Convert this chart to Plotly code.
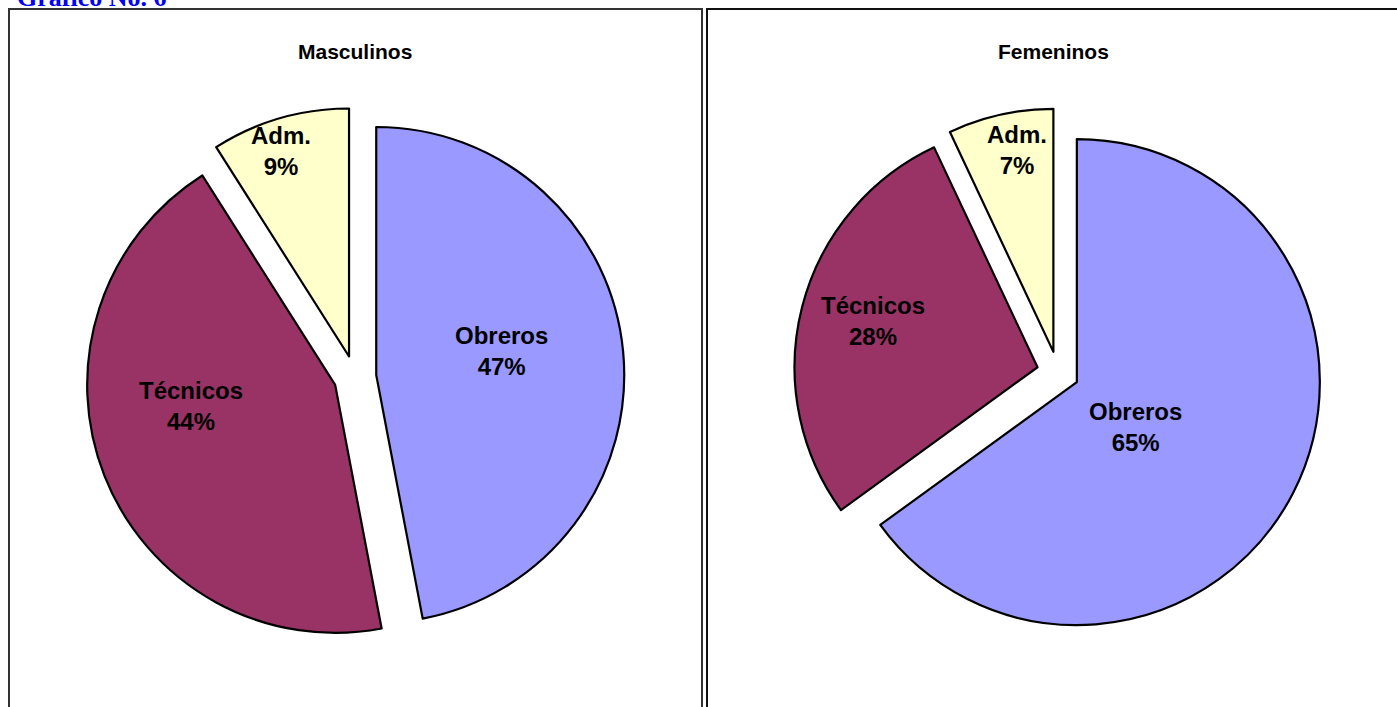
import math
import plotly.graph_objects as go

W, H = 1397, 707

categories = ["Obreros", "Técnicos", "Adm."]
masculinos = [47, 44, 9]
femeninos = [65, 28, 7]
colors = ["#9999FF", "#993366", "#FFFFCC"]

# label placement: radial fraction of radius and angular tweak (deg) per slice
m_label_frac = [0.60, 0.67, 0.96]
m_label_dang = [-4.6, 11.6, -1.9]
f_label_frac = [0.39, 0.79, 0.93]
f_label_dang = [8.3, 1.2, 2.2]

FONT = "Arial, Liberation Sans, sans-serif"


def px_dom(cx, cy, half):
    return dict(x=[(cx - half) / W, (cx + half) / W],
                y=[1 - (cy + half) / H, 1 - (cy - half) / H])


def make_pie(vals, cx, cy, r, pull):
    half = r * (1 + pull)
    return go.Pie(
        labels=categories, values=vals, sort=False, direction="clockwise",
        rotation=0, pull=[pull] * len(vals),
        marker=dict(colors=colors, line=dict(color="black", width=2.2)),
        textinfo="none",
        hoverinfo="label+percent", showlegend=False,
        domain=px_dom(cx, cy, half),
    )


def label_annots(vals, cx, cy, r, fracs, dangs):
    total = sum(vals)
    out = []
    start = 0.0
    for lab, v, fr, da in zip(categories, vals, fracs, dangs):
        ang = math.radians((start + v / total * 180.0) + da)
        start += v / total * 360.0
        x = cx + fr * r * math.sin(ang)
        y = cy - fr * r * math.cos(ang)
        pct = round(v / total * 100)
        out.append(dict(
            text=f"<b>{lab}</b><br><b>{pct}%</b>", x=x / W, y=1 - y / H,
            xref="paper", yref="paper", showarrow=False,
            xanchor="center", yanchor="middle",
            font=dict(family=FONT, size=24, color="black")))
    return out


M_C, M_R, M_P = (355, 377), 248, 0.086
F_C, F_R, F_P = (1058, 372.5), 243, 0.087

fig = go.Figure()
fig.add_trace(make_pie(masculinos, M_C[0], M_C[1], M_R, M_P))
fig.add_trace(make_pie(femeninos, F_C[0], F_C[1], F_R, F_P))


def box(x0, y0, x1, y1, color):
    return dict(type="rect", xref="paper", yref="paper",
                x0=x0 / W, x1=x1 / W, y0=1 - y1 / H, y1=1 - y0 / H,
                line=dict(color=color, width=2), fillcolor="rgba(0,0,0,0)")


shapes = [box(9, 9, 702, 720, "#333333"), box(707, 9, 1410, 720, "#111111")]

annotations = [
    dict(text="<b>Masculinos</b>", x=355 / W, y=1 - 51 / H, xref="paper", yref="paper",
         showarrow=False, xanchor="center", yanchor="middle",
         font=dict(family=FONT, size=21, color="black")),
    dict(text="<b>Femeninos</b>", x=1053 / W, y=1 - 51 / H, xref="paper", yref="paper",
         showarrow=False, xanchor="center", yanchor="middle",
         font=dict(family=FONT, size=21, color="black")),
    dict(text="<b>Gráfico No. 6</b>", x=15 / W, y=1 - 14 / H, xref="paper", yref="paper",
         showarrow=False, xanchor="left", yanchor="bottom",
         font=dict(family="Times New Roman, Liberation Serif, serif", size=26, color="#0000FF")),
]
annotations += label_annots(masculinos, M_C[0], M_C[1], M_R, m_label_frac, m_label_dang)
annotations += label_annots(femeninos, F_C[0], F_C[1], F_R, f_label_frac, f_label_dang)

fig.update_layout(
    width=W, height=H, margin=dict(l=0, r=0, t=0, b=0),
    paper_bgcolor="white", plot_bgcolor="white",
    shapes=shapes, annotations=annotations,
)

fig.write_html("out.html", config={"displayModeBar": False},
               post_script="document.body.style.margin='0';")
